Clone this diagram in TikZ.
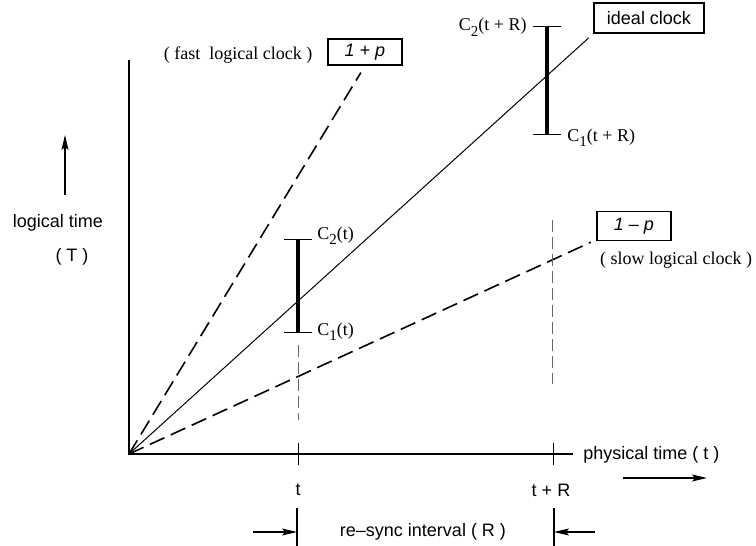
\documentclass[tikz,border=0pt]{standalone}
\usepackage{fontspec}
\setmainfont{Liberation Serif}
\setsansfont{Liberation Sans}
\usetikzlibrary{arrows.meta, positioning}
\newcommand{\clksub}[1]{\raisebox{-2.6pt}{\fontsize{7.5}{8}\selectfont #1}}

\begin{document}
\begin{tikzpicture}[x=0.5pt, y=-0.5pt, font=\sffamily\fontsize{9}{11}\selectfont,
    txt/.style={inner sep=0pt},
    clockbox/.style={draw, line width=0.75pt, minimum width=37pt, minimum height=14pt, inner sep=0pt},
    clockline/.style={line width=0.8pt, dash pattern=on 8pt off 3.5pt},
    timeline/.style={line width=0.5pt, gray!80!black, dash pattern=on 6pt off 2.5pt},
    arr/.style={-{Stealth[length=7.5pt, width=3.5pt, inset=1.5pt]}, line width=0.6pt}]
  \useasboundingbox (0,0) rectangle (756,546);

  % axes
  \coordinate (O) at (129,454);
  \coordinate (ytop) at (129,60);
  \coordinate (xend) at (573,454);
  \draw[line width=1pt] (ytop) -- (O) -- (xend);
  \node[txt, anchor=west] (xlabel) at (583,455) {physical time ( t )};
  \coordinate (xarrA) at (623,478);
  \coordinate (xarrB) at (707,478);
  \draw[arr] (xarrA) -- (xarrB);
  \node[txt] (ylabel) at (58,223) {logical time};
  \node[txt] (yunit) at (72,257) {( T )};
  \coordinate (yarrA) at (65,195);
  \coordinate (yarrB) at (65,135);
  \draw[arr] (yarrA) -- (yarrB);

  % clocks
  \node[clockbox, minimum height=13pt] (fastbox) at (365,52) {\itshape 1 + p};
  \node[txt, font=\rmfamily\fontsize{9}{11}\selectfont] (fastlabel) at (238,55) {( fast~ logical clock )};
  \node[clockbox, minimum width=55pt, minimum height=15pt] (idealbox) at (649,18) {ideal clock};
  \node[clockbox, minimum height=14.5pt] (slowbox) at (634,226) {\itshape 1 -- p};
  \node[txt, font=\rmfamily\fontsize{9}{11}\selectfont] (slowlabel) at (676,260) {( slow logical clock )};
  \draw[line width=0.5pt, shorten >=3pt] (O) -- (idealbox.south west);
  \draw[clockline, shorten >=4pt] (O) -- (fastbox.south);
  \draw[clockline, shorten >=3pt] (O) -- (slowbox.200);

  % time t
  \coordinate (tdashA) at (298,345);
  \coordinate (tdashB) at (298,420);
  \draw[timeline] (tdashA) -- (tdashB);
  \coordinate (ttickA) at (298,443);
  \coordinate (ttickB) at (298,465);
  \draw[line width=0.5pt] (ttickA) -- (ttickB);
  \node[txt] (tlabel) at (298,490) {t};
  \coordinate (c2t) at (298,239);
  \coordinate (c1t) at (298,332);
  \draw[line width=2pt] (c2t) -- (c1t);
  \draw[line width=0.5pt] ([xshift=-7pt]c2t) -- ([xshift=7pt]c2t);
  \draw[line width=0.5pt] ([xshift=-7pt]c1t) -- ([xshift=7pt]c1t);
  \node[txt, anchor=base west, font=\rmfamily\fontsize{9}{11}\selectfont] (c2tlabel) at (317,239) {C\clksub{2}(t)};
  \node[txt, anchor=base west, font=\rmfamily\fontsize{9}{11}\selectfont] (c1tlabel) at (317,335) {C\clksub{1}(t)};

  % time t + R
  \coordinate (rdashA) at (552,220);
  \coordinate (rdashB) at (552,384);
  \draw[timeline] (rdashA) -- (rdashB);
  \coordinate (rtickA) at (553,443);
  \coordinate (rtickB) at (553,465);
  \draw[line width=0.5pt] (rtickA) -- (rtickB);
  \node[txt] (rlabel) at (551,490) {t + R};
  \coordinate (c2r) at (547,26);
  \coordinate (c1r) at (547,134);
  \draw[line width=2pt] (c2r) -- (c1r);
  \draw[line width=0.5pt] ([xshift=-7pt]c2r) -- ([xshift=7pt]c2r);
  \draw[line width=0.5pt] ([xshift=-7pt]c1r) -- ([xshift=7pt]c1r);
  \node[txt, anchor=base east, font=\rmfamily\fontsize{9}{11}\selectfont] (c2rlabel) at (527,31) {C\clksub{2}(t + R)};
  \node[txt, anchor=base west, font=\rmfamily\fontsize{9}{11}\selectfont] (c1rlabel) at (567,141) {C\clksub{1}(t + R)};

  % interval
  \coordinate (barLA) at (297,508);
  \coordinate (barLB) at (297,546);
  \coordinate (barRA) at (554,508);
  \coordinate (barRB) at (554,546);
  \draw[line width=0.6pt] (barLA) -- (barLB);
  \draw[line width=0.6pt] (barRA) -- (barRB);
  \coordinate (intL) at (253,532);
  \coordinate (intLend) at (297,532);
  \coordinate (intR) at (595,532);
  \coordinate (intRend) at (554,532);
  \draw[arr] (intL) -- (intLend);
  \draw[arr] (intR) -- (intRend);
  \node[txt] (intlabel) at (423,532) {re--sync interval ( R )};
\end{tikzpicture}
\end{document}
